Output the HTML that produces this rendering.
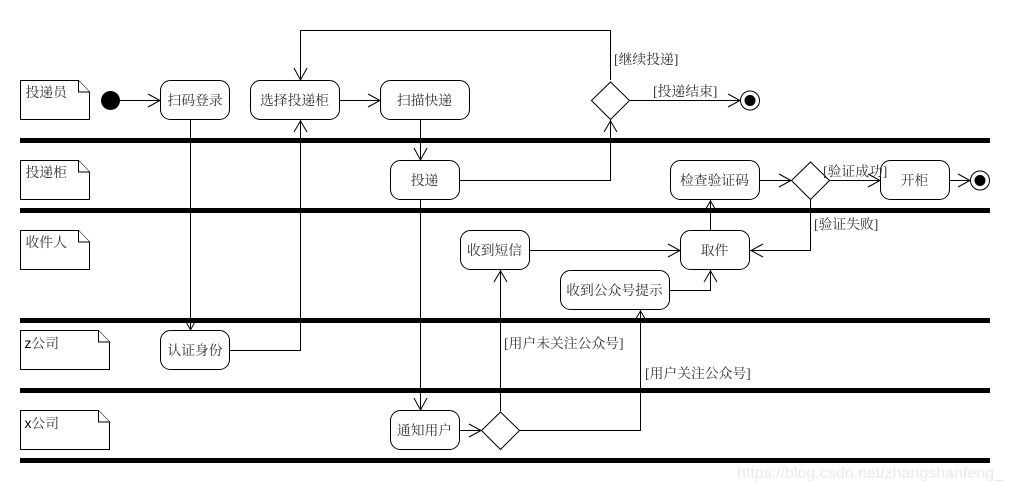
<!DOCTYPE html>
<html><head><meta charset="utf-8"><style>
html,body{margin:0;padding:0;background:#fff;width:1010px;height:490px;overflow:hidden}
svg{display:block}
text{font-family:"Liberation Serif","Noto Serif CJK SC",serif;font-size:13.8px;fill:#333}
.c{text-anchor:middle}
.l{fill:none;stroke:#000;stroke-width:1}
.b{fill:#fff;stroke:#000;stroke-width:1}
</style></head><body>
<svg width="1010" height="490" viewBox="0 0 1010 490" xmlns="http://www.w3.org/2000/svg">
<g fill="#000">
<rect x="20" y="138" width="970" height="5"/>
<rect x="20" y="208" width="970" height="5"/>
<rect x="20" y="318" width="970" height="5"/>
<rect x="20" y="388" width="970" height="5"/>
<rect x="20" y="458" width="970" height="5"/>
</g>
<g class="l" shape-rendering="crispEdges">
<path d="M190.5 120V330"/>
<path d="M230 350.5H300.5V120"/>
<path d="M610.5 80V30.5H300.5V80"/>
<path d="M340 100.5H380"/>
<path d="M120 100.5H160"/>
<path d="M420.5 120V160"/>
<path d="M460 180.5H610.5V120"/>
<path d="M630 100.5H740"/>
<path d="M420.5 200V410"/>
<path d="M460 430.5H481"/>
<path d="M500.5 411V270"/>
<path d="M530 250.5H680"/>
<path d="M520 430.5H640.5V310"/>
<path d="M670 290.5H710.5V270"/>
<path d="M710.5 230V200"/>
<path d="M760 180.5H791"/>
<path d="M830 180.5H880"/>
<path d="M950 180.5H970"/>
<path d="M810.5 200V250.5H750"/>
</g>
<g class="l">
<path d="M148 94L160 100.5L148 107"/>
<path d="M294 68L300.5 80L307 68"/>
<path d="M294 132L300.5 121L307 132"/>
<path d="M368 94L380 100.5L368 107"/>
<path d="M184 318L190.5 330L197 318"/>
<path d="M414 148L420.5 160L427 148"/>
<path d="M604 132L610.5 121L617 132"/>
<path d="M728 94L740 100.5L728 107"/>
<path d="M414 398L420.5 410L427 398"/>
<path d="M469 424L481 430.5L469 437"/>
<path d="M494 282L500.5 271L507 282"/>
<path d="M668 244L680 250.5L668 257"/>
<path d="M634 322L640.5 311L647 322"/>
<path d="M704 282L710.5 271L717 282"/>
<path d="M704 212L710.5 201L717 212"/>
<path d="M779 174L791 180.5L779 187"/>
<path d="M868 174L880 180.5L868 187"/>
<path d="M958 174L970 180.5L958 187"/>
<path d="M763 244L751 250.5L763 257"/>
</g>
<g class="b">
<path d="M20.5 80.5H78.5L89.5 92V119.5H20.5Z"/><path d="M78.5 80.5V92H89.5"/>
<path d="M20.5 160.5H78.5L89.5 172V199.5H20.5Z"/><path d="M78.5 160.5V172H89.5"/>
<path d="M20.5 230.5H78.5L89.5 242V269.5H20.5Z"/><path d="M78.5 230.5V242H89.5"/>
<path d="M20.5 330.5H98.5L109.5 342V369.5H20.5Z"/><path d="M98.5 330.5V342H109.5"/>
<path d="M20.5 410.5H98.5L109.5 422V449.5H20.5Z"/><path d="M98.5 410.5V422H109.5"/>
<rect x="160.5" y="80.5" width="69" height="39" rx="10"/>
<rect x="250.5" y="80.5" width="89" height="39" rx="10"/>
<rect x="380.5" y="80.5" width="89" height="39" rx="10"/>
<rect x="390.5" y="160.5" width="69" height="39" rx="10"/>
<rect x="670.5" y="160.5" width="89" height="39" rx="10"/>
<rect x="880.5" y="160.5" width="69" height="39" rx="10"/>
<rect x="460.5" y="230.5" width="69" height="39" rx="10"/>
<rect x="680.5" y="230.5" width="69" height="39" rx="10"/>
<rect x="560.5" y="270.5" width="109" height="39" rx="10"/>
<rect x="160.5" y="330.5" width="69" height="39" rx="10"/>
<rect x="390.5" y="410.5" width="69" height="39" rx="10"/>
<path d="M610.5 82L629.5 100.5L610.5 119.5L591.5 100.5Z"/>
<path d="M810.5 162L829.5 180.5L810.5 199.5L791.5 180.5Z"/>
<path d="M500.5 412L519.5 430.5L500.5 449.5L481.5 430.5Z"/>
</g>
<circle cx="110.5" cy="100.5" r="9.5" fill="#000"/>
<circle cx="750" cy="100.5" r="9.5" class="b"/><circle cx="750" cy="100.5" r="5.5" fill="#000"/>
<circle cx="980" cy="180.5" r="9.5" class="b"/><circle cx="980" cy="180.5" r="5.5" fill="#000"/>
<text x="25.5" y="97">投递员</text>
<text x="25.5" y="177">投递柜</text>
<text x="25.5" y="247">收件人</text>
<text x="24.5" y="348"><tspan fill="#000" font-family="Liberation Sans">z</tspan>公司</text>
<text x="24.5" y="428"><tspan fill="#000" font-family="Liberation Sans">x</tspan>公司</text>
<text class="c" x="195" y="105">扫码登录</text>
<text class="c" x="294.5" y="105">选择投递柜</text>
<text class="c" x="424.5" y="105">扫描快递</text>
<text class="c" x="424.5" y="185">投递</text>
<text class="c" x="714.5" y="185">检查验证码</text>
<text class="c" x="914.5" y="185">开柜</text>
<text class="c" x="494.5" y="255">收到短信</text>
<text class="c" x="714.5" y="255">取件</text>
<text class="c" x="614.5" y="295">收到公众号提示</text>
<text class="c" x="195" y="355">认证身份</text>
<text class="c" x="424.5" y="435">通知用户</text>
<text x="614" y="64">[继续投递]</text>
<text x="653" y="96">[投递结束]</text>
<text x="823" y="176">[验证成功]</text>
<text x="814" y="229">[验证失败]</text>
<text x="504" y="348">[用户未关注公众号]</text>
<text x="645" y="378">[用户关注公众号]</text>
<text x="737" y="478" style="font-family:'Liberation Sans',sans-serif;font-size:16px;fill:#eaeaea">https://blog.csdn.net/zhangshanfeng_</text>
</svg>
</body></html>
